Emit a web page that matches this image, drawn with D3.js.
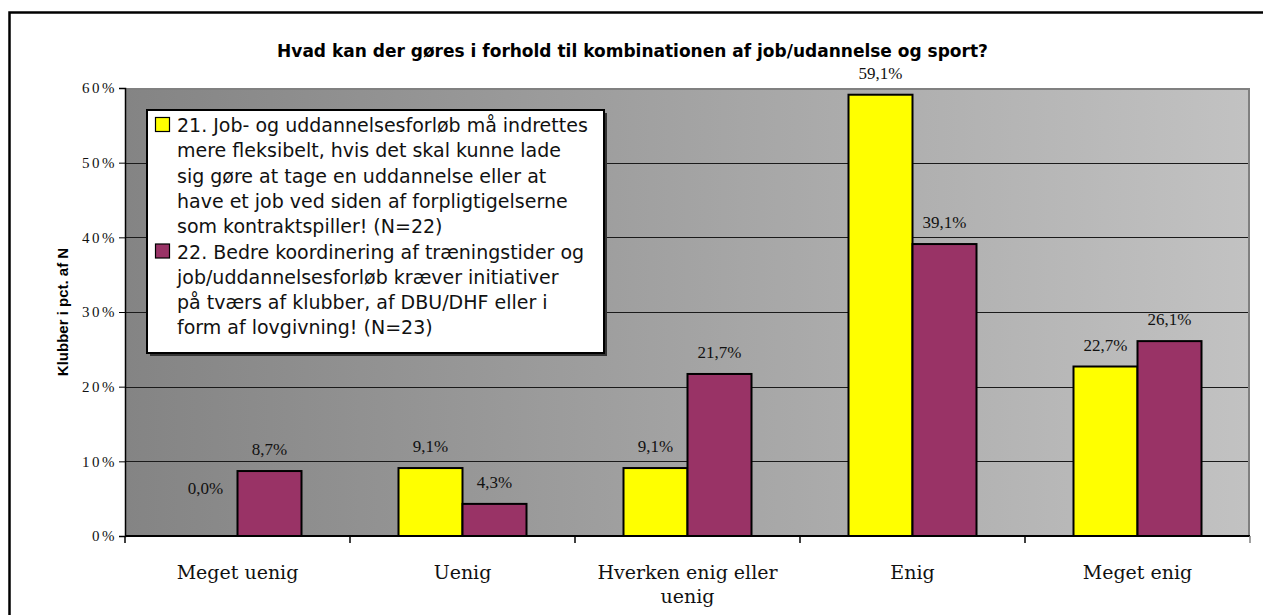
<!DOCTYPE html>
<html>
<head>
<meta charset="utf-8">
<script src="https://cdn.jsdelivr.net/npm/d3@7"></script>
<style>
  html, body { margin: 0; padding: 0; background: #fff; }
  svg { display: block; }
</style>
</head>
<body>
<svg id="chart" width="1265" height="615"></svg>
<script>
// Survey answers, percent of clubs
const categories = ["Meget uenig", "Uenig", "Hverken enig eller uenig", "Enig", "Meget enig"];
const seriesKeys = ["q21", "q22"];
const q21Values = [0.0, 9.1, 9.1, 59.1, 22.7];
const q22Values = [8.7, 4.3, 21.7, 39.1, 26.1];
const yTicks = [0, 10, 20, 30, 40, 50, 60];
const legendLines = [
  ["21. Job- og uddannelsesforløb må indrettes",
   "mere fleksibelt, hvis det skal kunne lade",
   "sig gøre at tage en uddannelse eller at",
   "have et job ved siden af forpligtigelserne",
   "som kontraktspiller! (N=22)"],
  ["22. Bedre koordinering af træningstider og",
   "job/uddannelsesforløb kræver initiativer",
   "på tværs af klubber, af DBU/DHF eller i",
   "form af lovgivning! (N=23)"]
];
const titleText = "Hvad kan der gøres i forhold til kombinationen af job/udannelse og sport?";
const yTitle = "Klubber i pct. af N";

const colors = { q21: "#FFFF00", q22: "#993366" };

const svg = d3.select("#chart");
const margin = { left: 125, right: 15, top: 88, bottom: 79 };
const W = 1265, H = 615;
const plotW = W - margin.left - margin.right;
const plotH = H - margin.top - margin.bottom;

const locale = d3.formatLocale({ decimal: ",", thousands: ".", grouping: [3], currency: ["", " kr."] });
const fmt1 = locale.format(".1f");

const rows = categories.map((c, i) => ({ cat: c, q21: q21Values[i], q22: q22Values[i] }));

const x0 = d3.scaleBand().domain(categories).range([0, plotW]);
const groupW = 128;
const x1 = d3.scaleBand().domain(seriesKeys)
  .range([(x0.bandwidth() - groupW) / 2, (x0.bandwidth() + groupW) / 2]);
const y = d3.scaleLinear().domain([0, 60]).range([plotH, 0]);

// outer frame (left and top edges fall inside the page)
svg.append("path")
  .attr("d", `M9.5,${H} V12.5 H1263`)
  .attr("fill", "none").attr("stroke", "#000").attr("stroke-width", 2.5);

const defs = svg.append("defs");
const grad = defs.append("linearGradient").attr("id", "bg").attr("x1", "0").attr("x2", "1").attr("y1", "0").attr("y2", "0");
grad.append("stop").attr("offset", "0").attr("stop-color", "#848484");
grad.append("stop").attr("offset", "1").attr("stop-color", "#C2C2C2");

const g = svg.append("g").attr("transform", `translate(${margin.left},${margin.top})`);

g.append("rect").attr("width", plotW).attr("height", plotH).attr("fill", "url(#bg)");

// horizontal gridlines
g.append("g").selectAll("line")
  .data(yTicks.filter(t => t > 0 && t < 60))
  .join("line")
  .attr("x1", 0).attr("x2", plotW)
  .attr("y1", d => Math.round(y(d)) + 0.5).attr("y2", d => Math.round(y(d)) + 0.5)
  .attr("stroke", "#1a1a1a").attr("stroke-width", 1.2);

// plot-area frame on top and right
g.append("path")
  .attr("d", `M0,1 H${plotW - 1} V${plotH}`)
  .attr("fill", "none").attr("stroke", "#808080").attr("stroke-width", 2);

// bars
const groups = g.append("g").selectAll("g")
  .data(rows).join("g")
  .attr("transform", d => `translate(${x0(d.cat)},0)`);

groups.selectAll("rect")
  .data(d => seriesKeys.map(k => ({ key: k, value: d[k] })))
  .join("rect")
  .filter(d => d.value > 0)
  .attr("x", d => x1(d.key))
  .attr("y", d => y(d.value))
  .attr("width", x1.bandwidth())
  .attr("height", d => y(0) - y(d.value))
  .attr("fill", d => colors[d.key])
  .attr("stroke", "#000").attr("stroke-width", 2);

// value labels
groups.selectAll("text.val")
  .data(d => seriesKeys.map(k => ({ key: k, value: d[k] })))
  .join("text")
  .attr("class", "val")
  .attr("x", d => x1(d.key) + x1.bandwidth() / 2)
  .attr("y", d => Math.min(y(d.value), y(0) - 26) - 16)
  .attr("text-anchor", "middle")
  .attr("font-family", "'Liberation Serif', serif")
  .attr("font-size", 17)
  .attr("fill", "#111")
  .text(d => fmt1(d.value) + "%");

// y axis
const yAxis = g.append("g")
  .call(d3.axisLeft(y).tickValues(yTicks).tickSize(6).tickPadding(2).tickFormat(d => d + "%"));
yAxis.attr("font-size", 15);
yAxis.select(".domain").attr("stroke", "#000").attr("stroke-width", 1.5);
yAxis.selectAll(".tick line").attr("stroke", "#000");
yAxis.selectAll("text")
  .attr("font-family", "'Liberation Serif', serif")
  .attr("font-size", 15)
  .attr("letter-spacing", "2.5px")
  .attr("fill", "#111");

// x axis with ticks on category boundaries
const xAxisG = g.append("g").attr("transform", `translate(0,${plotH})`);
xAxisG.append("line").attr("x1", 0).attr("x2", plotW).attr("y1", 0).attr("y2", 0)
  .attr("stroke", "#000").attr("stroke-width", 2);
xAxisG.selectAll("line.tk")
  .data(categories.map(c => x0(c)).concat([plotW]))
  .join("line").attr("class", "tk")
  .attr("x1", d => d).attr("x2", d => d).attr("y1", 0).attr("y2", 7)
  .attr("stroke", (d, i) => i === categories.length ? "#808080" : "#000").attr("stroke-width", 1.5);

function wrapLines(text, maxW, size, family) {
  const ctx = document.createElement("canvas").getContext("2d");
  ctx.font = `${size}px ${family}`;
  const words = text.split(" ");
  const lines = [];
  let cur = "";
  words.forEach(w => {
    const t = cur ? cur + " " + w : w;
    if (ctx.measureText(t).width > maxW && cur) { lines.push(cur); cur = w; }
    else cur = t;
  });
  lines.push(cur);
  return lines;
}

const xFont = "'DejaVu Serif'";
const xSize = 19;
categories.forEach(c => {
  const lines = wrapLines(c, 200, xSize, xFont);
  const t = xAxisG.append("text")
    .attr("text-anchor", "middle")
    .attr("font-family", xFont + ", serif")
    .attr("font-size", xSize)
    .attr("fill", "#111");
  lines.forEach((ln, i) => {
    t.append("tspan").attr("x", x0(c) + x0.bandwidth() / 2).attr("y", 43 + i * 24).text(ln);
  });
});

// title
svg.append("text")
  .attr("x", W / 2).attr("y", 57)
  .attr("text-anchor", "middle")
  .attr("font-family", "'DejaVu Sans', sans-serif")
  .attr("font-weight", "bold")
  .attr("font-size", 17)
  .attr("fill", "#000")
  .text(titleText);

// y-axis title
svg.append("text")
  .attr("transform", `translate(68,${margin.top + plotH / 2}) rotate(-90)`)
  .attr("text-anchor", "middle")
  .attr("font-family", "'Liberation Sans', Arial, sans-serif")
  .attr("font-weight", "bold")
  .attr("font-size", 15)
  .attr("fill", "#000")
  .text(yTitle);

// legend
const lg = svg.append("g").attr("transform", "translate(147,110)");
const lgW = 457, lgH = 243;
lg.append("rect").attr("x", 3).attr("y", 3).attr("width", lgW).attr("height", lgH).attr("fill", "#333");
lg.append("rect").attr("width", lgW).attr("height", lgH).attr("fill", "#fff")
  .attr("stroke", "#000").attr("stroke-width", 2);

const lineH = 25.3;
let row = 0;
seriesKeys.forEach((k, si) => {
  const top = 21 + row * lineH;
  lg.append("rect").attr("x", 8.5).attr("y", top - 13.5).attr("width", 14).attr("height", 14)
    .attr("fill", colors[k]).attr("stroke", "#000").attr("stroke-width", 1.2);
  const t = lg.append("text")
    .attr("font-family", "'DejaVu Sans', sans-serif")
    .attr("font-size", 19)
    .attr("fill", "#111");
  legendLines[si].forEach((ln, i) => {
    t.append("tspan").attr("x", 30).attr("y", top + i * lineH + 1).text(ln);
  });
  row += legendLines[si].length;
});
</script>
</body>
</html>
